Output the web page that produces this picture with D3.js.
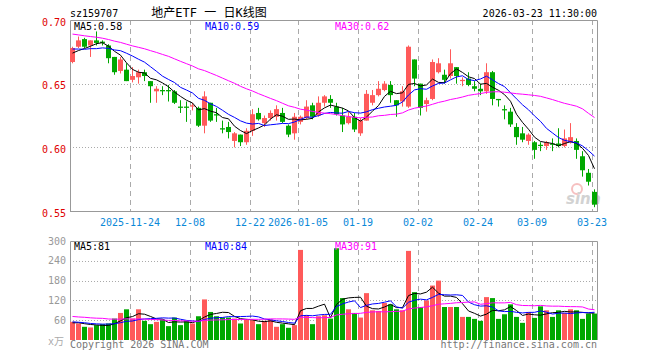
<!DOCTYPE html>
<html>
<head>
<meta charset="utf-8">
<script src="https://cdn.jsdelivr.net/npm/d3@7"></script>
<style>
  body { margin: 0; background: #fff; }
  svg { display: block; }
  text { font-family: 'DejaVu Sans Mono', 'Liberation Mono', monospace; font-size: 10px; }
</style>
</head>
<body>
<svg id="chart" width="660" height="360"></svg>
<script>
(function() {
  'use strict';

  // daily bars, 2025-11-10 .. 2026-03-23 (88 trading days)
  var opens = [
    0.667, 0.679, 0.685, 0.680, 0.684, 0.683, 0.680, 0.671, 0.660, 0.661,
    0.653, 0.655, 0.659, 0.652, 0.644, 0.645, 0.645, 0.644, 0.632, 0.632,
    0.632, 0.631, 0.617, 0.635, 0.626, 0.615, 0.616, 0.605, 0.610, 0.604,
    0.613, 0.627, 0.619, 0.623, 0.624, 0.627, 0.617, 0.611, 0.620, 0.623,
    0.633, 0.625, 0.635, 0.638, 0.632, 0.625, 0.619, 0.624, 0.611, 0.621,
    0.635, 0.641, 0.645, 0.649, 0.637, 0.636, 0.632, 0.669, 0.650, 0.634,
    0.638, 0.659, 0.657, 0.656, 0.663, 0.652, 0.654, 0.648, 0.646, 0.644,
    0.659, 0.638, 0.630, 0.628, 0.616, 0.611, 0.605, 0.604, 0.602, 0.601,
    0.603, 0.603, 0.601, 0.604, 0.605, 0.593, 0.580, 0.565
  ];
  var highs = [
    0.679, 0.687, 0.686, 0.684, 0.691, 0.684, 0.681, 0.671, 0.671, 0.666,
    0.663, 0.661, 0.661, 0.652, 0.648, 0.648, 0.649, 0.645, 0.637, 0.636,
    0.635, 0.632, 0.644, 0.635, 0.631, 0.621, 0.620, 0.612, 0.610, 0.615,
    0.630, 0.631, 0.625, 0.629, 0.633, 0.631, 0.618, 0.627, 0.625, 0.637,
    0.635, 0.640, 0.641, 0.641, 0.635, 0.631, 0.628, 0.627, 0.623, 0.645,
    0.645, 0.652, 0.652, 0.652, 0.637, 0.648, 0.680, 0.669, 0.650, 0.639,
    0.669, 0.670, 0.661, 0.677, 0.663, 0.655, 0.659, 0.652, 0.650, 0.666,
    0.660, 0.638, 0.633, 0.631, 0.619, 0.616, 0.611, 0.605, 0.604, 0.605,
    0.607, 0.615, 0.614, 0.619, 0.607, 0.597, 0.583, 0.567
  ];
  var lows = [
    0.666, 0.678, 0.678, 0.671, 0.680, 0.680, 0.666, 0.657, 0.658, 0.652,
    0.651, 0.650, 0.652, 0.635, 0.635, 0.641, 0.636, 0.634, 0.627, 0.620,
    0.629, 0.616, 0.611, 0.620, 0.620, 0.611, 0.607, 0.600, 0.601, 0.602,
    0.609, 0.621, 0.616, 0.621, 0.621, 0.619, 0.608, 0.606, 0.618, 0.622,
    0.622, 0.624, 0.632, 0.631, 0.625, 0.612, 0.618, 0.612, 0.609, 0.621,
    0.633, 0.640, 0.644, 0.635, 0.624, 0.632, 0.631, 0.648, 0.625, 0.628,
    0.637, 0.658, 0.650, 0.654, 0.650, 0.648, 0.648, 0.644, 0.641, 0.642,
    0.633, 0.632, 0.622, 0.616, 0.602, 0.604, 0.602, 0.591, 0.597, 0.598,
    0.597, 0.600, 0.600, 0.603, 0.591, 0.577, 0.570, 0.553
  ];
  var closes = [
    0.678, 0.684, 0.679, 0.684, 0.682, 0.682, 0.670, 0.659, 0.669, 0.652,
    0.656, 0.659, 0.656, 0.648, 0.646, 0.644, 0.644, 0.635, 0.631, 0.631,
    0.633, 0.617, 0.640, 0.621, 0.625, 0.614, 0.612, 0.611, 0.604, 0.613,
    0.626, 0.622, 0.623, 0.627, 0.630, 0.620, 0.610, 0.624, 0.624, 0.632,
    0.624, 0.635, 0.640, 0.635, 0.626, 0.618, 0.624, 0.614, 0.621, 0.642,
    0.641, 0.646, 0.650, 0.641, 0.633, 0.644, 0.679, 0.654, 0.631, 0.637,
    0.667, 0.666, 0.653, 0.666, 0.656, 0.653, 0.649, 0.646, 0.644, 0.659,
    0.638, 0.637, 0.629, 0.618, 0.608, 0.606, 0.610, 0.598, 0.601, 0.604,
    0.602, 0.601, 0.607, 0.608, 0.598, 0.582, 0.573, 0.555
  ];
  // volume, 10k shares
  var volumes = [
    55, 50, 40, 38, 45, 48, 50, 65, 82, 93,
    65, 93, 58, 48, 55, 62, 42, 68, 45, 58,
    50, 72, 123, 85, 72, 68, 68, 65, 50, 62,
    60, 48, 58, 62, 40, 48, 37, 45, 273, 75,
    48, 72, 75, 65, 278, 127, 93, 82, 68, 142,
    90, 88, 112, 108, 93, 90, 270, 145, 100, 120,
    165, 180, 100, 100, 100, 70, 70, 64, 58, 130,
    127, 64, 78, 108, 70, 52, 85, 67, 102, 90,
    70, 90, 82, 93, 90, 64, 80, 80
  ];
  // sessions before the window, only feed the moving averages
  var preCloses = [
    0.703, 0.700, 0.702, 0.698, 0.705, 0.701, 0.697, 0.699, 0.694, 0.696,
    0.693, 0.690, 0.692, 0.688, 0.691, 0.689, 0.694, 0.690, 0.686, 0.688,
    0.684, 0.681, 0.679, 0.682, 0.676, 0.674, 0.671, 0.675, 0.672
  ];
  var preVolumes = [
    95, 70, 88, 76, 62, 110, 84, 73, 68, 90,
    79, 66, 85, 72, 94, 81, 70, 77, 64, 86,
    62, 55, 60, 57, 56, 48, 55, 50, 52
  ];

  var priceTicks = [0.70, 0.65, 0.60, 0.55];
  var volTicks = [300, 240, 180, 120, 60];
  var dateTickIdx = [10, 20, 30, 38, 48, 58, 68, 77, 87];
  var dateTickText = ['2025-11-24', '12-08', '12-22', '2026-01-05', '01-19',
    '02-02', '02-24', '03-09', '03-23'];
  var maDays = [5, 10, 30];
  var maColors = ['#000000', '#0000ff', '#ff00ff'];

  var RED = '#ff5a5a', GREEN = '#00a800', GRID = '#aaaaaa';
  var left = 70, right = 597, step = 6;

  var svg = d3.select('#chart');

  var x = d3.scaleLinear().domain([0, closes.length]).range([left, left + closes.length * step]);
  var y = d3.scaleLinear().domain([0.55, 0.70]).range([211, 20]);
  var yv = d3.scaleLinear().domain([0, 300]).range([340, 241]);

  var movingAvg = function(pre, vals, n) {
    var all = pre.concat(vals);
    return vals.map(function(v, i) {
      var k = i + pre.length;
      return d3.mean(all.slice(k - n + 1, k + 1));
    });
  };
  var isUp = function(i) { return closes[i] >= opens[i]; };
  var idx = d3.range(closes.length);

  // headers
  svg.append('text').attr('x', 70).attr('y', 17).text('sz159707');
  svg.append('text').attr('x', 209).attr('y', 17).attr('text-anchor', 'middle')
    .style('font-size', '12px')
    .style('font-family', "'DejaVu Sans Mono', 'Noto Sans CJK SC', monospace")
    .text('地产ETF 一 日K线图');
  svg.append('text').attr('x', 597).attr('y', 17).attr('text-anchor', 'end')
    .text('2026-03-23 11:30:00');

  // watermark
  var wm = svg.append('g').attr('class', 'watermark');
  wm.append('circle').attr('cx', 577).attr('cy', 189).attr('r', 5)
    .attr('fill', 'none').attr('stroke', '#f6c0c0').attr('stroke-width', 2);
  wm.append('text').attr('x', 566).attr('y', 204)
    .style('font-family', "'DejaVu Sans', sans-serif").style('font-size', '15px')
    .style('font-weight', 'bold').style('font-style', 'italic')
    .attr('fill', '#d2d2d2').text('sina');

  // grids
  var drawPanel = function(top, bottom, hTicks, yScale) {
    var g = svg.append('g');
    g.selectAll('line.v').data(dateTickIdx).enter().append('line')
      .attr('x1', function(d) { return Math.round(x(d)) + 0.5; })
      .attr('x2', function(d) { return Math.round(x(d)) + 0.5; })
      .attr('y1', top).attr('y2', bottom)
      .attr('stroke', GRID).attr('stroke-dasharray', '5,4');
    g.selectAll('line.h').data(hTicks).enter().append('line')
      .attr('x1', left).attr('x2', right)
      .attr('y1', function(d) { return Math.round(yScale(d)) + 0.5; })
      .attr('y2', function(d) { return Math.round(yScale(d)) + 0.5; })
      .attr('stroke', GRID).attr('stroke-dasharray', '1,2');
    g.append('path')
      .attr('d', 'M' + (left + 0.5) + ',' + bottom + 'V' + (top + 0.5) + 'H' + (right + 0.5) + 'V' + bottom)
      .attr('fill', 'none').attr('stroke', '#999');
    return g;
  };
  drawPanel(20, 211, [0.65, 0.60], y);
  svg.append('line').attr('x1', left).attr('x2', right + 1)
    .attr('y1', 211.5).attr('y2', 211.5).attr('stroke', '#999');
  drawPanel(241, 340, [240, 180, 120, 60], yv);

  // price labels
  svg.selectAll('text.py').data(priceTicks).enter().append('text')
    .attr('x', 66).attr('y', function(d) { return y(d) + 5.5; })
    .attr('text-anchor', 'end').attr('fill', '#e00000')
    .text(d3.format('.2f'));
  svg.selectAll('text.vy').data(volTicks).enter().append('text')
    .attr('x', 66).attr('y', function(d) { return yv(d) + 3.5; })
    .attr('text-anchor', 'end').attr('fill', '#999')
    .text(function(d) { return d; });
  svg.append('text').attr('x', 64).attr('y', 345).attr('text-anchor', 'end')
    .attr('fill', '#aaa')
    .style('font-family', "'DejaVu Sans Mono', 'Noto Sans CJK SC', monospace")
    .text('x万');

  // date labels
  svg.selectAll('text.dx').data(dateTickIdx).enter().append('text')
    .attr('x', function(d) { return x(d); }).attr('y', 225.5)
    .attr('text-anchor', 'middle').attr('fill', '#0a88d8')
    .text(function(d, i) { return dateTickText[i]; });

  // candles
  var candles = svg.append('g').attr('class', 'candles');
  candles.selectAll('line').data(idx).enter().append('line')
    .attr('x1', function(i) { return x(i) + 2.5; })
    .attr('x2', function(i) { return x(i) + 2.5; })
    .attr('y1', function(i) { return y(highs[i]); })
    .attr('y2', function(i) { return y(lows[i]); })
    .attr('stroke', function(i) { return isUp(i) ? RED : GREEN; });
  candles.selectAll('rect').data(idx).enter().append('rect')
    .attr('x', function(i) { return x(i); })
    .attr('width', 5)
    .attr('y', function(i) { return y(Math.max(opens[i], closes[i])); })
    .attr('height', function(i) {
      return Math.max(1, Math.abs(y(opens[i]) - y(closes[i])));
    })
    .attr('fill', function(i) { return isUp(i) ? RED : GREEN; });

  // volume bars
  svg.append('g').selectAll('rect').data(idx).enter().append('rect')
    .attr('x', function(i) { return x(i); })
    .attr('width', 5)
    .attr('y', function(i) { return yv(volumes[i]); })
    .attr('height', function(i) { return 340 - yv(volumes[i]); })
    .attr('fill', function(i) { return isUp(i) ? RED : GREEN; });

  // moving averages
  var priceMa = maDays.map(function(n) { return movingAvg(preCloses, closes, n); });
  var volMa = maDays.map(function(n) { return movingAvg(preVolumes, volumes, n); });
  var drawLines = function(series, scale) {
    var line = d3.line()
      .x(function(v, i) { return x(i) + 2.5; })
      .y(function(v) { return scale(v); });
    svg.append('g').selectAll('path').data(series).enter().append('path')
      .attr('d', line)
      .attr('fill', 'none')
      .attr('stroke', function(d, k) { return maColors[k]; })
      .attr('stroke-width', 1);
  };
  drawLines(priceMa, y);
  drawLines(volMa, yv);

  // legends
  var legendX = [74, 205, 335];
  svg.selectAll('text.pl').data(maDays).enter().append('text')
    .attr('x', function(d, k) { return legendX[k]; }).attr('y', 29.5)
    .attr('fill', function(d, k) { return maColors[k]; })
    .text(function(d, k) {
      return 'MA' + d + ':' + d3.format('.2f')(priceMa[k][closes.length - 1]);
    });
  svg.selectAll('text.vl').data(maDays).enter().append('text')
    .attr('x', function(d, k) { return legendX[k]; }).attr('y', 249.5)
    .attr('fill', function(d, k) { return maColors[k]; })
    .text(function(d, k) {
      return 'MA' + d + ':' + Math.floor(volMa[k][volumes.length - 1]);
    });

  // footer
  svg.append('text').attr('x', 70).attr('y', 348).attr('fill', '#777')
    .text('Copyright 2026 SINA.COM');
  svg.append('text').attr('x', 597).attr('y', 348).attr('text-anchor', 'end')
    .attr('fill', '#777').text('http://finance.sina.com.cn');
}).call(this);
</script>
</body>
</html>
